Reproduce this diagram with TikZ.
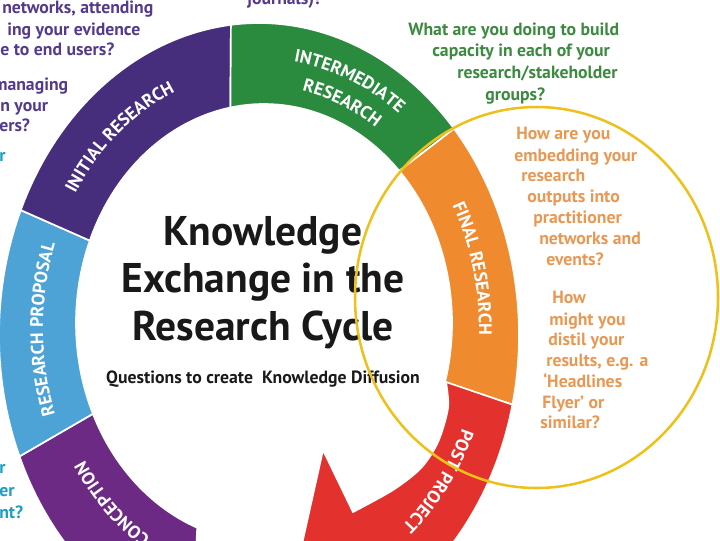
\documentclass[tikz,border=0pt]{standalone}
\usepackage{fontspec}
\setmainfont{PT Sans}
\usetikzlibrary{decorations.text}

\definecolor{propblue}{RGB}{77,163,214}
\definecolor{initpurple}{RGB}{70,46,125}
\definecolor{midgreen}{RGB}{42,138,62}
\definecolor{finorange}{RGB}{240,138,46}
\definecolor{postred}{RGB}{227,49,45}
\definecolor{conpurple}{RGB}{108,42,132}
\definecolor{qgreen}{RGB}{60,138,64}
\definecolor{qorange}{RGB}{233,152,84}
\definecolor{qpurple}{RGB}{84,58,140}
\definecolor{qteal}{RGB}{30,158,192}
\definecolor{ringyellow}{RGB}{238,192,28}

% one coloured piece of the ring: outer edge from #1 to #2, inner edge from #3 to #4
\newcommand{\ringpart}[5]{%
  \path[seg=#5] ([shift={(co)}]#1:260 and 312) arc[start angle=#1,end angle=#2,x radius=260,y radius=312]
    -- ([shift={(ci)}]#4:188 and 219) arc[start angle=#4,end angle=#3,x radius=188,y radius=219] -- cycle;}
% white label running clockwise along the ring
\newcommand{\ringlabel}[5]{%
  \path[decorate,decoration={text along path,text align=center,text color=white,
      text={|\bfseries\fontsize{12.8}{15}\selectfont|#5}}]
    ([shift={(cm)}]#1:#3 and #4) arc[start angle=#1,end angle=#2,x radius=#3,y radius=#4];}

\begin{document}
\begin{tikzpicture}[x=0.025cm, y=0.025cm,
    seg/.style={fill=#1, draw=white, line width=1.2pt},
    question/.style={font=\bfseries\fontsize{12.6}{15}\selectfont, inner sep=0pt, anchor=mid west},
    bigtitle/.style={font=\bfseries\fontsize{29.5}{34}\selectfont, text=black!90, inner sep=0pt, anchor=base}]
  \useasboundingbox (0,0) rectangle (720,-540);
  \clip (0,0) rectangle (720,-540);
  \coordinate (co) at (259,-335);
  \coordinate (ci) at (264,-323);
  \coordinate (cm) at (261,-329);

  \ringpart{202.9}{255}{204.5}{249.2}{conpurple}
  \ringpart{156.4}{202.9}{157.9}{204.5}{propblue}
  \ringpart{96.2}{156.4}{100.3}{157.9}{initpurple}
  \ringpart{41.4}{96.2}{44}{100.3}{midgreen}
  \ringpart{-12.9}{41.4}{-15.7}{44}{finorange}
  \coordinate (tip) at (285,-620);
  \coordinate (barb) at (323,-450);
  \coordinate (notch) at (353,-512);
  \path[seg=postred] ([shift={(co)}]-12.9:260 and 312) arc[start angle=-12.9,end angle=-66,x radius=260,y radius=312]
    -- (tip) -- (barb) -- (notch)
    -- plot[smooth] coordinates {(notch) (393,-490) (421,-468) (438,-442) (448,-408) (446,-382)} -- cycle;

  \ringlabel{256}{196}{208}{246}{CONCEPTION}
  \ringlabel{210}{150}{218}{258}{RESEARCH PROPOSAL}
  \ringlabel{160}{100}{218}{258}{INITIAL RESEARCH}
  \ringlabel{98}{38}{228}{270}{INTERMEDIATE}
  \ringlabel{98}{38}{205}{243}{RESEARCH}
  \ringlabel{44}{-16}{218}{258}{FINAL RESEARCH}
  \ringlabel{-7}{-67}{218}{258}{POST PROJECT}

  \node[bigtitle] (t1) at (263,-245) {Knowledge};
  \node[bigtitle] (t2) at (263,-292) {Exchange in the};
  \node[bigtitle] (t3) at (263,-340) {Research Cycle};
  \node[question, text=black!90, anchor=base] (sub) at (263,-383) {Questions to create\ \ Knowledge Diffusion};

  \node[question, text=qpurple, anchor=base west] (jr) at (247,-4) {journals)?};
  \node[question, text=qpurple] (p1) at (2,-10) {networks, attending};
  \node[question, text=qpurple] (p2) at (7,-32) {ing your evidence};
  \node[question, text=qpurple] (p3) at (0,-52) {e to end users?};
  \node[question, text=qpurple] (p4) at (-7,-87) {managing};
  \node[question, text=qpurple] (p5) at (0,-108) {n your};
  \node[question, text=qpurple] (p6) at (-1,-128) {ers?};
  \node[question, text=qteal] (b1) at (-1,-158) {r};
  \node[question, text=qteal] (b2) at (-1,-470) {r};
  \node[question, text=qteal] (b3) at (-1,-493) {er};
  \node[question, text=qteal] (b4) at (-1,-515) {nt?};

  \node[question, text=qgreen] (g1) at (408,-32) {What are you doing to build};
  \node[question, text=qgreen] (g2) at (432,-53) {capacity in each of your};
  \node[question, text=qgreen] (g3) at (457,-75) {research/stakeholder};
  \node[question, text=qgreen] (g4) at (485,-97) {groups?};

  \node[question, text=qorange] (o1) at (516,-136) {How are you};
  \node[question, text=qorange] (o2) at (514,-158) {embedding your};
  \node[question, text=qorange] (o3) at (521,-178) {research};
  \node[question, text=qorange] (o4) at (527,-199) {outputs into};
  \node[question, text=qorange] (o5) at (533,-220) {practitioner};
  \node[question, text=qorange] (o6) at (539,-241) {networks and};
  \node[question, text=qorange] (o7) at (546,-262) {events?};
  \node[question, text=qorange] (o8) at (552,-300) {How};
  \node[question, text=qorange] (o9) at (549,-322) {might you};
  \node[question, text=qorange] (o10) at (548,-342) {distil your};
  \node[question, text=qorange] (o11) at (546,-363) {results, e.g. a};
  \node[question, text=qorange] (o12) at (543,-384) {`Headlines};
  \node[question, text=qorange] (o13) at (542,-405) {Flyer' or};
  \node[question, text=qorange] (o14) at (540,-425) {similar?};

  \draw[ringyellow, line width=1.8pt] (536.5,-297.5) ellipse [x radius=181.5, y radius=190.5];
\end{tikzpicture}
\end{document}
